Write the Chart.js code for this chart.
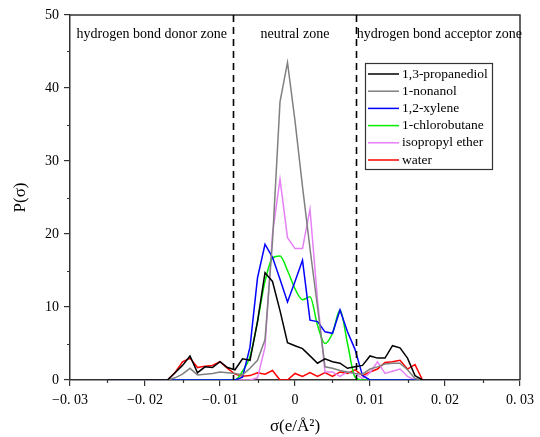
<!DOCTYPE html>
<html lang="en">
<head>
    <meta charset="UTF-8">
    <title>Sigma profiles</title>
    <script src="https://cdn.jsdelivr.net/npm/chart.js"></script>
    <style>
        html, body { margin: 0; padding: 0; background: #fff; }
        .chart { width: 540px; height: 437px; }
    </style>
</head>
<body>
    <div class="chart">
        <canvas id="sigmaChart"></canvas>
    </div>

    <script>
        // screening charge density grid, e/Å²
        const sigma = [
            -0.025, -0.024, -0.023, -0.022, -0.021, -0.020, -0.019, -0.018, -0.017, -0.016,
            -0.015, -0.014, -0.013, -0.012, -0.011, -0.010, -0.009, -0.008, -0.007, -0.006,
            -0.005, -0.004, -0.003, -0.002, -0.001, 0.000, 0.001, 0.002, 0.003, 0.004,
            0.005, 0.006, 0.007, 0.008, 0.009, 0.010, 0.011, 0.012, 0.013, 0.014,
            0.015, 0.016, 0.017, 0.018, 0.019, 0.020, 0.021, 0.022, 0.023, 0.024, 0.025
        ];

        const propanediol = [
            0, 0, 0, 0, 0, 0, 0, 0, 0, 1.0,
            2.0, 3.3, 1.0, 1.8, 1.7, 2.5, 1.7, 1.4, 2.9, 2.7,
            8.0, 14.7, 13.5, 9.5, 5.1, 4.7, 4.3, 3.3, 2.3, 2.9,
            2.5, 2.3, 1.6, 1.8, 2.0, 3.3, 3.0, 3.0, 4.7, 4.4,
            3.0, 0.6, 0, 0, 0, 0, 0, 0, 0, 0, 0
        ];
        const nonanol = [
            0, 0, 0, 0, 0, 0, 0, 0, 0, 0.3,
            0.8, 1.6, 0.7, 0.8, 0.9, 1.1, 1.0, 0.9, 0.7, 1.6,
            2.7, 5.5, 19.0, 38.1, 43.5, 35.5, 26.5, 18.0, 10.0, 1.8,
            1.6, 1.3, 1.1, 0.9, 0.8, 1.5, 1.8, 2.2, 2.3, 2.3,
            1.4, 0.2, 0, 0, 0, 0, 0, 0, 0, 0, 0
        ];
        const xylene = [
            0, 0, 0, 0, 0, 0, 0, 0, 0, 0,
            0, 0, 0, 0, 0, 0, 0, 0, 0.4, 4.5,
            14.0, 18.6, 16.8, 13.8, 10.7, 13.5, 16.4, 8.2, 8.0, 6.6,
            6.4, 9.6, 6.6, 4.2, 0.6, 0, 0, 0, 0, 0,
            0, 0, 0, 0, 0, 0, 0, 0, 0, 0, 0
        ];
        const chlorobutane = [
            0, 0, 0, 0, 0, 0, 0, 0, 0, 0,
            0, 0, 0, 0, 0, 0, 0, 0, 1.2, 3.2,
            8.0, 13.5, 16.7, 17.0, 15.0, 12.5, 11.0, 11.4, 7.5, 5.0,
            6.4, 9.6, 5.0, 0.4, 0, 0, 0, 0, 0, 0,
            0, 0, 0, 0, 0, 0, 0, 0, 0, 0, 0
        ];
        const isopropylEther = [
            0, 0, 0, 0, 0, 0, 0, 0, 0, 0,
            0, 0, 0, 0, 0, 0, 0, 0, 0, 0,
            0.3, 4.5, 20.0, 27.5, 19.5, 18.0, 18.0, 23.4, 11.0, 1.1,
            1.1, 0.5, 1.1, 0.9, 0.2, 1.0, 2.5, 0.9, 1.2, 1.5,
            0.5, 0, 0, 0, 0, 0, 0, 0, 0, 0, 0
        ];
        const water = [
            0, 0, 0, 0, 0, 0, 0, 0, 0, 1.0,
            2.5, 3.0, 1.7, 1.9, 2.0, 2.5, 1.6, 0.8, 0.5, 0.6,
            1.0, 0.8, 1.3, 0, 0, 0.9, 0.5, 1.0, 0.5, 1.0,
            0.5, 1.1, 0.9, 1.4, 0.6, 1.1, 1.5, 2.4, 2.5, 2.7,
            1.5, 2.1, 0, 0, 0, 0, 0, 0, 0, 0, 0
        ];

        const seriesNames = ['1,3-propanediol', '1-nonanol', '1,2-xylene', '1-chlorobutane', 'isopropyl ether', 'water'];
        const seriesColors = ['#000000', '#808080', '#0000ff', '#00ee00', '#e580f5', '#ff0000'];

        const xTicks = [-0.03, -0.02, -0.01, 0, 0.01, 0.02, 0.03];
        const xTickLabels = ['\u22120. 03', '\u22120. 02', '\u22120. 01', '0', '0. 01', '0. 02', '0. 03'];
        const yTicks = [0, 10, 20, 30, 40, 50];

        // zone boundaries and labels
        const zoneLimits = [-0.0082, 0.0082];
        const zoneNames = ['hydrogen bond donor zone', 'neutral zone', 'hydrogen bond acceptor zone'];

        const serif = '"Liberation Serif", "Times New Roman", serif';

        function toPoints(values) {
            return values.map((v, i) => ({ x: sigma[i], y: v }));
        }

        const allSeries = [propanediol, nonanol, xylene, chlorobutane, isopropylEther, water];

        const datasets = allSeries.map((values, i) => ({
            label: seriesNames[i],
            data: toPoints(values),
            borderColor: seriesColors[i],
            backgroundColor: seriesColors[i],
            borderWidth: 1.5,
            pointRadius: 0,
            tension: i === 3 ? 0.35 : 0,
            cubicInterpolationMode: i === 3 ? 'monotone' : 'default',
            fill: false
        }));

        // frame, minor ticks, zone dividers, zone labels and legend
        const decorations = {
            id: 'decorations',
            afterDraw(chart) {
                const ctx = chart.ctx;
                const area = chart.chartArea;
                const xs = chart.scales.x;
                const ys = chart.scales.y;

                ctx.save();

                // top and right edges of the frame
                ctx.strokeStyle = '#333';
                ctx.lineWidth = 1.5;
                ctx.beginPath();
                ctx.moveTo(area.left, area.top);
                ctx.lineTo(area.right, area.top);
                ctx.lineTo(area.right, area.bottom);
                ctx.stroke();

                // minor ticks
                ctx.lineWidth = 1.2;
                ctx.beginPath();
                for (let v = 5; v < 50; v += 10) {
                    const py = Math.round(ys.getPixelForValue(v)) + 0.5;
                    ctx.moveTo(area.left - 3, py);
                    ctx.lineTo(area.left, py);
                }
                for (let v = -0.025; v < 0.03; v += 0.01) {
                    const px = Math.round(xs.getPixelForValue(v)) + 0.5;
                    ctx.moveTo(px, area.bottom);
                    ctx.lineTo(px, area.bottom + 3);
                }
                ctx.stroke();

                // dashed zone dividers
                ctx.strokeStyle = '#000';
                ctx.lineWidth = 1.6;
                ctx.setLineDash([7, 5]);
                ctx.beginPath();
                zoneLimits.forEach(s => {
                    const px = xs.getPixelForValue(s);
                    ctx.moveTo(px, area.top);
                    ctx.lineTo(px, area.bottom);
                });
                ctx.stroke();
                ctx.setLineDash([]);

                // zone labels
                ctx.fillStyle = '#000';
                ctx.font = '14px ' + serif;
                ctx.textBaseline = 'middle';
                ctx.textAlign = 'center';
                const labelY = area.top + 19;
                const d0 = xs.getPixelForValue(zoneLimits[0]);
                const d1 = xs.getPixelForValue(zoneLimits[1]);
                ctx.fillText(zoneNames[0], (area.left + d0) / 2, labelY);
                ctx.fillText(zoneNames[1], (d0 + d1) / 2, labelY);
                ctx.fillText(zoneNames[2], (d1 + area.right) / 2 + 1, labelY);

                // legend box
                const boxX = 365, boxY = 63, boxW = 127, boxH = 106;
                ctx.fillStyle = '#fff';
                ctx.fillRect(boxX, boxY, boxW, boxH);
                ctx.strokeStyle = '#333';
                ctx.lineWidth = 1.2;
                ctx.strokeRect(boxX + 0.5, boxY + 0.5, boxW, boxH);

                ctx.textAlign = 'left';
                ctx.font = '13.5px ' + serif;
                chart.data.datasets.forEach((ds, i) => {
                    const rowY = boxY + 11 + i * 17.2;
                    ctx.strokeStyle = ds.borderColor;
                    ctx.lineWidth = 1.5;
                    ctx.beginPath();
                    ctx.moveTo(boxX + 3, rowY);
                    ctx.lineTo(boxX + 34, rowY);
                    ctx.stroke();
                    ctx.fillStyle = '#000';
                    ctx.fillText(ds.label, boxX + 37, rowY);
                });

                ctx.restore();
            }
        };

        const ctx = document.getElementById('sigmaChart').getContext('2d');

        new Chart(ctx, {
            type: 'line',
            data: { datasets: datasets },
            options: {
                responsive: true,
                maintainAspectRatio: false,
                animation: false,
                layout: {
                    padding: { top: 15, right: 17, left: 0, bottom: 0 }
                },
                plugins: {
                    legend: { display: false },
                    tooltip: { enabled: false }
                },
                scales: {
                    x: {
                        type: 'linear',
                        min: -0.03,
                        max: 0.03,
                        afterFit(scale) { scale.height = 57; },
                        afterBuildTicks(scale) {
                            scale.ticks = xTicks.map(v => ({ value: v }));
                        },
                        border: { display: true, color: '#333', width: 1.5 },
                        grid: {
                            drawOnChartArea: false,
                            drawTicks: true,
                            tickLength: 6,
                            color: '#333',
                            lineWidth: 1.2
                        },
                        ticks: {
                            color: '#000',
                            padding: 6,
                            maxRotation: 0,
                            autoSkip: false,
                            font: { family: serif, size: 14 },
                            callback: (value) => {
                                const i = xTicks.findIndex(t => Math.abs(t - value) < 1e-9);
                                return i >= 0 ? xTickLabels[i] : '';
                            }
                        },
                        title: {
                            display: true,
                            text: 'σ(e/Å²)',
                            color: '#000',
                            font: { family: serif, size: 17 },
                            padding: { top: 3, bottom: 0 }
                        }
                    },
                    y: {
                        min: 0,
                        max: 50,
                        afterFit(scale) { scale.width = 70; },
                        afterBuildTicks(scale) {
                            scale.ticks = yTicks.map(v => ({ value: v }));
                        },
                        border: { display: true, color: '#333', width: 1.5 },
                        grid: {
                            drawOnChartArea: false,
                            drawTicks: true,
                            tickLength: 6,
                            color: '#333',
                            lineWidth: 1.2
                        },
                        ticks: {
                            color: '#000',
                            padding: 5,
                            font: { family: serif, size: 14 }
                        },
                        title: {
                            display: true,
                            text: 'P(σ)',
                            color: '#000',
                            font: { family: serif, size: 17 },
                            padding: { top: 10, bottom: 4 }
                        }
                    }
                }
            },
            plugins: [decorations]
        });
    </script>
</body>
</html>
